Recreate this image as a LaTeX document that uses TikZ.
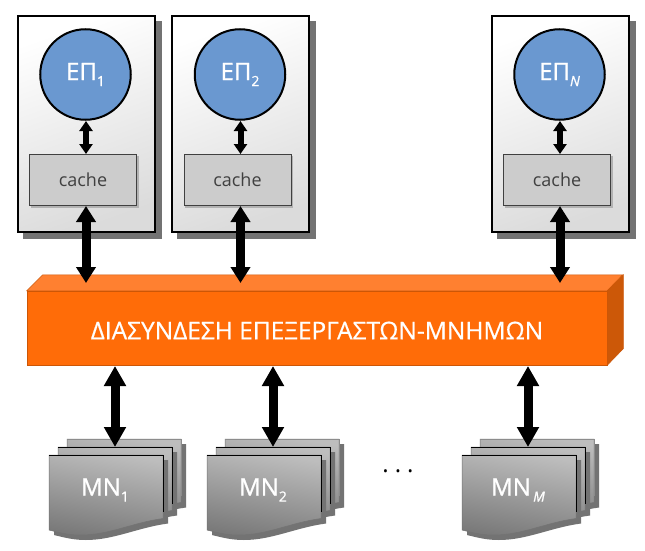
\documentclass[tikz,border=0pt]{standalone}
\usepackage{fontspec}
\setmainfont{Open Sans}
\usepackage{tikz}
\usetikzlibrary{arrows.meta}
\definecolor{busfront}{RGB}{255,108,8}
\definecolor{bustop}{RGB}{255,128,48}
\definecolor{busside}{RGB}{204,88,8}
\definecolor{cpublue}{RGB}{106,152,208}
\newcommand{\subtxt}[1]{\raisebox{-6pt}{\fontsize{14}{14}\selectfont #1}}
\newcommand{\bigwhite}{\fontsize{24}{26}\selectfont\addfontfeature{FakeBold=1}}
\tikzset{x=1pt, y=-1pt, font=\fontsize{18}{20}\selectfont,
  box/.style={draw=black, line width=2pt, left color=white, right color=black!14, shading angle=20, minimum width=137pt, minimum height=215pt, inner sep=0pt},
  boxshadow/.style={fill=black!55, minimum width=139pt, minimum height=217pt, inner sep=0pt},
  cpu/.style={circle, draw=black, line width=2pt, fill=cpublue, minimum size=90.5pt, inner sep=0pt, text=white, font=\bigwhite},
  cache/.style={draw=black!75, line width=0.8pt, fill=black!20, minimum width=107pt, minimum height=51pt, inner sep=0pt, text=black!75},
  cacheshadow/.style={fill=black!30, minimum width=108pt, minimum height=52pt, inner sep=0pt},
  memlabel/.style={text=white, inner sep=0pt, font=\bigwhite},
  thin arrow/.style={<->, >={Triangle[width=13pt,length=10pt]}, line width=6pt},
  mid arrow/.style={<->, >={Triangle[width=19pt,length=16pt]}, line width=9pt},
  bus arrow/.style={<->, >={Triangle[width=21pt,length=20pt]}, line width=9pt},
}
% one sheet of a memory stack, top left corner at (#1,#2)
\newcommand{\sheetpath}[2]{(#1,#2) -- ++(114,0) -- ++(0,63.5) .. controls +(-30,4) and +(28,0) .. ++(-82,16.5) .. controls +(-12,0) and +(12,3) .. ++(-32,-5) -- cycle}
\begin{document}
\begin{tikzpicture}
\useasboundingbox (0,0) rectangle (645,551);

% processor boxes
\foreach \n/\x/\lab in {1/86/1, 2/240.5/2, 3/560/{\itshape N}}
{
  \node[boxshadow] at (\x+6,130) {};
  \node[box] (box\n) at (\x,124) {};
  \node[cpu] (cpu\n) at (\x-0.5,74.5) {ΕΠ\subtxt{\lab}};
  \node[cacheshadow] at (\x-1.5,181.5) {};
  \node[cache] (cache\n) at (\x-3,179.5) {cache};
  \coordinate (cputip\n) at (\x,121);
  \coordinate (cachetop\n) at (\x,154);
  \coordinate (cachebot\n) at (\x,206);
  \coordinate (bustop\n) at (\x,283);
}

% interconnect
\node[fill=busfront, draw=busfront!80!black, line width=0.5pt, minimum width=580pt, minimum height=74pt, inner sep=0pt] (bus) at (317,328) {};
\node[text=white, inner sep=0pt, font=\fontsize{24.5}{26}\selectfont\addfontfeature{FakeBold=0.6}] (buslabel) at (317,330.5) {ΔΙΑΣΥΝΔΕΣΗ ΕΠΕΞΕΡΓΑΣΤΩΝ-ΜΝΗΜΩΝ};
\draw[fill=bustop, draw=busfront!80!black, line width=0.5pt] (bus.north west) -- ++(16,-16) -- ++(580,0) -- (bus.north east) -- cycle;
\draw[fill=busside, draw=busfront!80!black, line width=0.5pt] (bus.north east) -- ++(16,-16) -- ++(0,74) -- (bus.south east) -- cycle;

% memory stacks
\foreach \n/\x/\lab in {1/49/1, 2/207/2, 3/462/{\itshape\,M}}
{
  \foreach \d/\y/\edge in {18/439/black!45, 9/447/black, 0/455/black}
  {
    \fill[black!55] \sheetpath{\x+\d+5}{\y+5};
    \shade[top color=black!26, bottom color=black!52, shading angle=-10] \sheetpath{\x+\d}{\y};
    \draw[black!55, line width=0.5pt] \sheetpath{\x+\d}{\y};
    \draw[\edge, line width=0.8pt] (\x+\d,\y) -- ++(114,0) -- ++(0,57);
  }
  \coordinate (memtop\n) at (\x+66,447);
  \node[memlabel] (mem\n) at (\x+56,490) {ΜΝ\subtxt{\lab}};
  \coordinate (busbot\n) at (\x+66,366);
}
\node[font=\fontsize{24}{26}\selectfont, inner sep=0pt] (dots) at (398,471) {.\kern6pt.\kern6pt.};

% connectors
\foreach \n in {1,2,3}
{
  \draw[thin arrow] (cputip\n) to (cachetop\n);
  \draw[mid arrow] (cachebot\n) to (bustop\n);
  \draw[bus arrow] (busbot\n) to (memtop\n);
}
\end{tikzpicture}
\end{document}
